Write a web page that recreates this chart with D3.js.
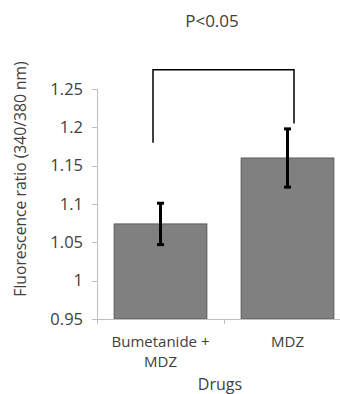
<!DOCTYPE html>
<meta charset="utf-8">
<style>
body { margin: 0; background: #fff; font-family: "Open Sans", sans-serif; }
text { fill: #404040; }
.axis path, .axis line { stroke: #bfbfbf; stroke-width: 1; shape-rendering: crispEdges; }
.bar { fill: #808080; stroke: #5a5a5a; stroke-width: 1; }
.err { stroke: #000; stroke-width: 3; }
.bracket { stroke: #000; stroke-width: 1.5; fill: none; }
</style>
<body>
<script src="https://cdn.jsdelivr.net/npm/d3@7"></script>
<script>
// chart data
var categories = ["Bumetanide + MDZ", "MDZ"];
var categoryLines = [["Bumetanide +", "MDZ"], ["MDZ"]];
var means = [1.074, 1.160];
var errors = [0.027, 0.038];
var yTicks = [0.95, 1, 1.05, 1.1, 1.15, 1.2, 1.25];
var bracketTops = [1.18, 1.205]; // lower ends of the bracket legs
var bracketLevel = 1.275;
var pLabel = "P<0.05";

var width = 340, height = 394;
var x0 = 97, x1 = 351, yBottom = 319, yTop = 89;

var svg = d3.select("body").append("svg")
  .attr("width", width)
  .attr("height", height);

var x = d3.scaleBand().domain(categories).range([x0, x1]).paddingInner(0.27).paddingOuter(0.135);
var y = d3.scaleLinear().domain([0.95, 1.25]).range([yBottom, yTop]);

// y axis
var yAxis = d3.axisLeft(y).tickValues(yTicks).tickSize(5).tickPadding(9)
  .tickFormat(function(d) { return d3.format("")(+d.toFixed(2)); });
var gy = svg.append("g").attr("class", "axis")
  .attr("transform", "translate(" + x0 + ",0)")
  .call(yAxis);
gy.select(".domain").attr("d", "M0.5," + yTop + "V" + yBottom);
gy.selectAll("text").style("font-size", "16.5px").style("font-family", "Open Sans").style("fill", "#404040");

// bars
svg.selectAll(".bar").data(means).enter().append("rect")
  .attr("class", "bar")
  .attr("x", function(d, i) { return x(categories[i]); })
  .attr("width", x.bandwidth())
  .attr("y", function(d) { return y(d); })
  .attr("height", function(d) { return y(0.95) - y(d); });

// x axis
var xb = d3.scaleLinear().domain([0, 2]).range([x0, x1]);
var gx = svg.append("g").attr("class", "axis")
  .attr("transform", "translate(0," + yBottom + ")");
gx.append("line").attr("x1", x0 - 5).attr("x2", x1).attr("y1", 0.5).attr("y2", 0.5);
gx.selectAll(".tk").data([0, 1, 2]).enter().append("line")
  .attr("x1", function(d) { return Math.round(xb(d)) + 0.5; })
  .attr("x2", function(d) { return Math.round(xb(d)) + 0.5; })
  .attr("y1", 0).attr("y2", 5);

// category labels
categoryLines.forEach(function(lines, i) {
  var cx = x(categories[i]) + x.bandwidth() / 2;
  var t = svg.append("text")
    .attr("text-anchor", "middle")
    .style("font-size", "15px");
  lines.forEach(function(l, j) {
    t.append("tspan").attr("x", cx).attr("y", 347 + j * 20).text(l);
  });
});

// error bars
var g = svg.append("g");
means.forEach(function(m, i) {
  var cx = x(categories[i]) + x.bandwidth() / 2;
  g.append("line").attr("class", "err")
    .attr("x1", cx).attr("x2", cx)
    .attr("y1", y(m + errors[i])).attr("y2", y(m - errors[i]));
  [m + errors[i], m - errors[i]].forEach(function(v) {
    g.append("line").attr("class", "err")
      .attr("x1", cx - 3.5).attr("x2", cx + 3.5)
      .attr("y1", y(v)).attr("y2", y(v));
  });
});

// significance bracket
var bx = [153, 294];
svg.append("path").attr("class", "bracket")
  .attr("d", "M" + bx[0] + "," + y(bracketTops[0]) +
    "V" + y(bracketLevel) + "H" + bx[1] + "V" + y(bracketTops[1]));

svg.append("text")
  .attr("x", 212).attr("y", 27)
  .attr("text-anchor", "middle")
  .style("font-size", "17px")
  .text(pLabel);

// axis titles
svg.append("text")
  .attr("x", 220).attr("y", 390)
  .attr("text-anchor", "middle")
  .style("font-size", "16px")
  .text("Drugs");

svg.append("text")
  .attr("transform", "translate(26," + 179 + ") rotate(-90)")
  .attr("text-anchor", "middle")
  .style("font-size", "15.7px")
  .text("Fluorescence ratio (340/380 nm)");
</script>
</body>
